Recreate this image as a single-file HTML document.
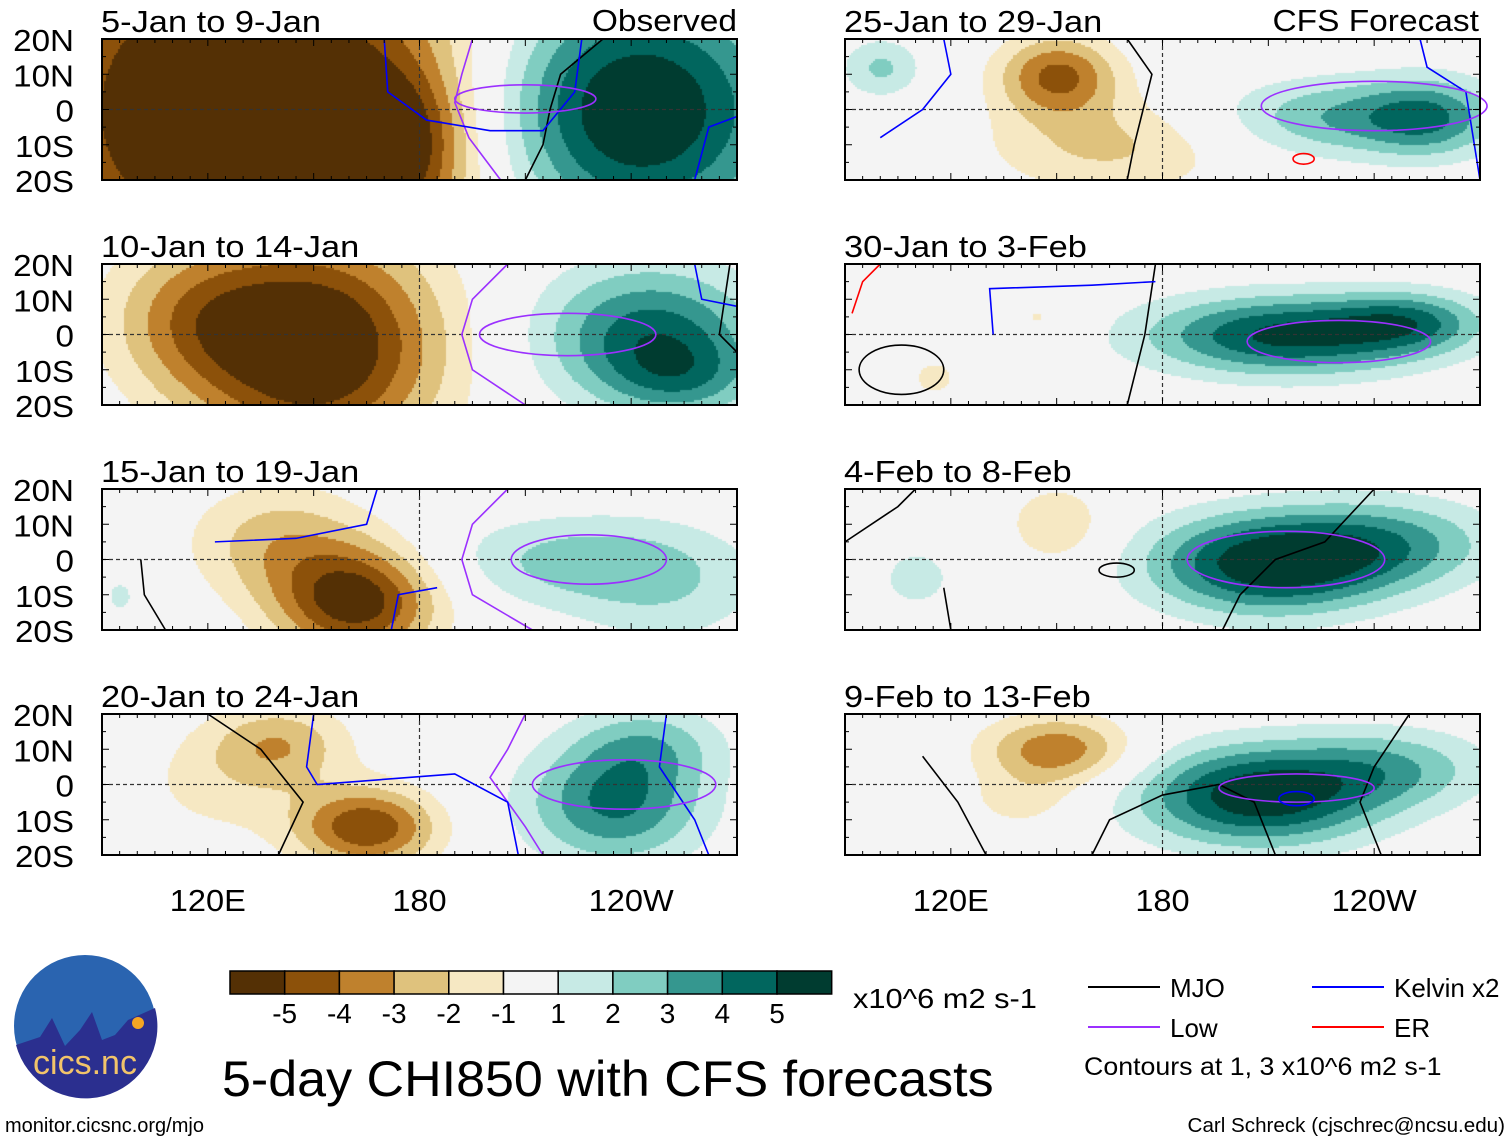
<!DOCTYPE html>
<html><head><meta charset="utf-8"><style>
body{margin:0;background:#fff;width:1510px;height:1142px;overflow:hidden;font-family:"Liberation Sans",sans-serif;position:relative}
canvas{position:absolute}
</style></head><body>
<div id="root"></div>
<svg id="ov" width="1510" height="1142" style="position:absolute;left:0;top:0"></svg>
<script>
// ---- data ----
const panelTitles=["5-Jan to 9-Jan","10-Jan to 14-Jan","15-Jan to 19-Jan","20-Jan to 24-Jan","25-Jan to 29-Jan","30-Jan to 3-Feb","4-Feb to 8-Feb","9-Feb to 13-Feb"];
const levels=[-5,-4,-3,-2,-1,1,2,3,4,5];
const colors=["#543005","#8c510a","#bf812d","#dfc27d","#f6e8c3","#f4f4f4","#c7eae5","#80cdc1","#35978f","#01665e","#003c30"];
const latTicks=["20N","10N","0","10S","20S"];
const lonTicks=[["120E",120],["180",180],["120W",240]];
// blobs: [lon, lat, amplitude, sigmaLon, sigmaLat]
const blobs0=[[130,0,-7.5,45,40],[240,0,6.5,30,25],[175,-10,-3,12,15]];
const blobs1=[[150,-3,-6.5,25,22],[115,5,-2.5,18,15],[245,0,4.5,22,14],[255,-12,2,15,8]];
const blobs2=[[162,-12,-5.5,16,11],[140,5,-2.5,18,12],[222,0,2.2,25,9],[250,-8,1.6,20,12],[95,-10,1.2,5,6]];
const blobs3=[[165,-12,-4.8,14,8],[140,12,-2.5,14,8],[125,0,-1.3,20,12],[235,-5,4.2,18,12],[245,12,2,15,8]];
const blobs4=[[150,10,-4.2,12,8],[165,-10,-2.2,25,10],[235,-2,3.2,28,8],[255,-2,2.2,12,8],[100,12,2.2,8,6]];
const blobs5=[[215,0,5.3,28,8],[250,4,3,15,6],[145,5,-1.2,8,5],[115,-12,-1.3,6,5]];
const blobs6=[[210,-1,5.8,24,10],[245,5,2.8,22,9],[150,10,-2,10,8],[110,-5,1.2,12,10]];
const blobs7=[[207,-3,5.8,24,10],[245,5,2.5,20,8],[150,10,-3.8,15,7],[140,-5,-1.3,12,6]];
const allBlobs=[blobs0,blobs1,blobs2,blobs3,blobs4,blobs5,blobs6,blobs7];
const lines0=[["#9b30ff",[[195,20],[192,10],[190,2],[194,-8],[203,-20]]],["#000",[[210,-20],[215,-10],[217,0],[220,10],[232,20]]],["#0000ff",[[170,20],[171,5],[182,-3],[200,-6],[215,-6],[224,5],[226,20]]],["#0000ff",[[258,-20],[262,-5],[270,-2]]]];
const lines1=[["#9b30ff",[[205,20],[195,10],[192,0],[195,-10],[210,-20]]],["#000",[[268,20],[265,0],[270,-5]]],["#0000ff",[[258,20],[260,10],[270,8]]]];
const lines2=[["#9b30ff",[[205,20],[195,10],[192,0],[195,-10],[212,-20]]],["#0000ff",[[168,20],[165,10],[145,6],[122,5]]],["#0000ff",[[172,-20],[174,-10],[185,-8]]],["#000",[[108,-20],[102,-10],[101,0]]]];
const lines3=[["#9b30ff",[[210,20],[205,10],[200,2],[205,-5],[210,-12],[215,-20]]],["#0000ff",[[250,20],[248,5],[258,-10],[262,-20]]],["#0000ff",[[150,20],[148,5],[151,0],[190,3],[205,-5],[208,-20]]],["#000",[[120,20],[135,10],[147,-5],[140,-20]]]];
const lines4=[["#000",[[170,20],[177,10],[172,-10],[170,-20]]],["#0000ff",[[100,-8],[112,0],[120,10],[118,20]]],["#0000ff",[[253,20],[255,12],[266,5],[270,-20]]]];
const lines5=[["#000",[[170,-20],[175,0],[178,20]]],["#0000ff",[[132,0],[131,13],[160,14],[178,15]]],["#ff0000",[[92,6],[95,15],[100,20]]]];
const lines6=[["#000",[[240,20],[226,5],[212,0],[202,-10],[197,-20]]],["#000",[[90,5],[105,15],[110,20]]],["#000",[[120,-20],[118,-8]]]];
const lines7=[["#000",[[212,-20],[206,-5],[196,0],[180,-3],[165,-10],[160,-20]]],["#000",[[250,20],[240,5],[236,-5],[242,-20]]],["#000",[[112,8],[122,-5],[130,-20]]]];
const allLines=[lines0,lines1,lines2,lines3,lines4,lines5,lines6,lines7];
const ell0=[["#9b30ff",210,3,20,4]];
const ell1=[["#9b30ff",222,0,25,6]];
const ell2=[["#9b30ff",228,0,22,7]];
const ell3=[["#9b30ff",238,0,26,7]];
const ell4=[["#9b30ff",240,1,32,7],["#ff0000",220,-14,3,1.5]];
const ell5=[["#9b30ff",230,-2,26,6],["#000",106,-10,12,7]];
const ell6=[["#9b30ff",215,0,28,8],["#000",167,-3,5,2]];
const ell7=[["#9b30ff",218,-1,22,4],["#0000ff",218,-4,5,2]];
const allEll=[ell0,ell1,ell2,ell3,ell4,ell5,ell6,ell7];
// ---- layout ----
const PX=[102,845],PY=[39,264,489,714],W=635,H=141;
const NS="http://www.w3.org/2000/svg";
const ov=document.getElementById('ov');
function X(p,lon){return p.x+(lon-90)/180*W}
function Y(p,lat){return p.y+(20-lat)/40*H}
function val(b,lon,lat){let v=0;for(const q of b){const dx=(lon-q[0])/q[3],dy=(lat-q[1])/q[4];v+=q[2]*Math.exp(-0.5*(dx*dx+dy*dy));}return v}
function col(v){let i=0;while(i<levels.length&&v>=levels[i])i++;return colors[i]}
function txt(x,y,s,size,anchor,name,widen){const t=document.createElementNS(NS,'text');t.setAttribute('x',x);t.setAttribute('y',y);t.setAttribute('font-size',size);t.setAttribute('font-family','Liberation Sans, sans-serif');t.setAttribute('text-anchor',anchor||'start');t.textContent=s;


ov.appendChild(t);
if(widen&&widen!=1){try{const L=t.getComputedTextLength();if(L>0){t.setAttribute('textLength',L*widen);t.setAttribute('lengthAdjust','spacingAndGlyphs');}}catch(e){}}
return t}
function ln(x1,y1,x2,y2,c,w,d){const l=document.createElementNS(NS,'line');l.setAttribute('x1',x1);l.setAttribute('y1',y1);l.setAttribute('x2',x2);l.setAttribute('y2',y2);l.setAttribute('stroke',c);l.setAttribute('stroke-width',w);if(d)l.setAttribute('stroke-dasharray',d);ov.appendChild(l);return l}
for(let k=0;k<8;k++){
 const p={x:PX[k<4?0:1],y:PY[k%4]};
 const cv=document.createElement('canvas');cv.width=W;cv.height=H;cv.style.left=p.x+'px';cv.style.top=p.y+'px';
 
 
 document.body.insertBefore(cv,ov);
 const g=cv.getContext('2d');
 for(let i=0;i<W;i+=2)for(let j=0;j<H;j+=2){const lon=90+i/W*180,lat=20-j/H*40;g.fillStyle=col(val(allBlobs[k],lon,lat));g.fillRect(i,j,2,2);}
 ln(X(p,180),p.y,X(p,180),p.y+H,'#333',1.2,'4,3');
 ln(p.x,Y(p,0),p.x+W,Y(p,0),'#333',1.2,'4,3');
 for(const L of allLines[k]){const pl=document.createElementNS(NS,'polyline');pl.setAttribute('points',L[1].map(q=>X(p,q[0])+','+Y(p,q[1])).join(' '));pl.setAttribute('fill','none');pl.setAttribute('stroke',L[0]);pl.setAttribute('stroke-width',1.6);
  
  
  ov.appendChild(pl);}
 for(const E of allEll[k]){const e=document.createElementNS(NS,'ellipse');e.setAttribute('cx',X(p,E[1]));e.setAttribute('cy',Y(p,E[2]));e.setAttribute('rx',E[3]/180*W);e.setAttribute('ry',E[4]/40*H);e.setAttribute('fill','none');e.setAttribute('stroke',E[0]);e.setAttribute('stroke-width',1.6);
  
  
  ov.appendChild(e);}
 const r=document.createElementNS(NS,'rect');r.setAttribute('x',p.x);r.setAttribute('y',p.y);r.setAttribute('width',W);r.setAttribute('height',H);r.setAttribute('fill','none');r.setAttribute('stroke','#000');r.setAttribute('stroke-width',2);
 
 
 ov.appendChild(r);
 for(let lon=90;lon<=270;lon+=5){const x=X(p,lon),s=lon%30==0?7:4;ln(x,p.y,x,p.y+s,'#000',1);ln(x,p.y+H,x,p.y+H-s,'#000',1);}
 for(let lat=-20;lat<=20;lat+=5){const y=Y(p,lat),s=lat%10==0?7:4;ln(p.x,y,p.x+s,y,'#000',1);ln(p.x+W,y,p.x+W-s,y,'#000',1);}
 txt(p.x-1,p.y-7,panelTitles[k],31,'start','panel-title',1.11);
 if(k<4){latTicks.forEach((s,i)=>txt(74,p.y+12+i*35.25,s,31,'end','lat-tick-label',1.07));}
 if(k%4==3){lonTicks.forEach(t=>txt(X(p,t[1]),p.y+H+56,t[0],31,'middle','lon-tick-label',1.05));}
}
txt(737,31,"Observed",31,'end','observed-label',1.08);
txt(1479,31,"CFS Forecast",31,'end','forecast-label',1.08);
const cbLabels=["-5","-4","-3","-2","-1","1","2","3","4","5"];
const cbx=230,cbw=54.7;
colors.forEach((c,i)=>{const r=document.createElementNS(NS,'rect');r.setAttribute('x',cbx+i*cbw);r.setAttribute('y',971);r.setAttribute('width',cbw);r.setAttribute('height',23);r.setAttribute('fill',c);r.setAttribute('stroke','#000');r.setAttribute('stroke-width',1.5);
 
 
 ov.appendChild(r);});
cbLabels.forEach((s,i)=>txt(cbx+(i+1)*cbw,1023,s,28,'middle','colorbar-label',1));
txt(853,1008,"x10^6 m2 s-1",28,'start','colorbar-units',1.1);
txt(222,1096,"5-day CHI850 with CFS forecasts",50,'start','figure-title',1.04);
const leg=[["MJO","#000",1088,987],["Kelvin x2","#0000ff",1312,987],["Low","#9b30ff",1088,1027],["ER","#ff0000",1312,1027]];
leg.forEach(l=>{ln(l[2],l[3],l[2]+72,l[3],l[1],2);txt(l[2]+82,l[3]+10,l[0],26,'start','legend-entry',1);});
txt(1084,1075,"Contours at 1, 3 x10^6 m2 s-1",25,'start','contour-note',1.07);
txt(5,1132,"monitor.cicsnc.org/mjo",20,'start','source-url',1.0);
txt(1505,1132,"Carl Schreck (cjschrec@ncsu.edu)",20,'end','author-credit',1.03);
const c=document.createElementNS(NS,'circle');c.setAttribute('cx',85);c.setAttribute('cy',1026);c.setAttribute('r',71);c.setAttribute('fill','#2a64b0');


ov.appendChild(c);
const m=document.createElementNS(NS,'path');m.setAttribute('d','M16,1045 L40,1037 L52,1018 L65,1046 L80,1030 L92,1012 L102,1040 L115,1035 L128,1020 L155,1008 A71,71 0 0 1 16,1045 Z');m.setAttribute('fill','#2b2f8f');ov.appendChild(m);
const s=document.createElementNS(NS,'circle');s.setAttribute('cx',138);s.setAttribute('cy',1023);s.setAttribute('r',6);s.setAttribute('fill','#f5a623');ov.appendChild(s);
const lt=txt(85,1074,"cics.nc",34,'middle','logo-text',1);lt.setAttribute('fill','#f2c46a');
</script>
</body></html>
